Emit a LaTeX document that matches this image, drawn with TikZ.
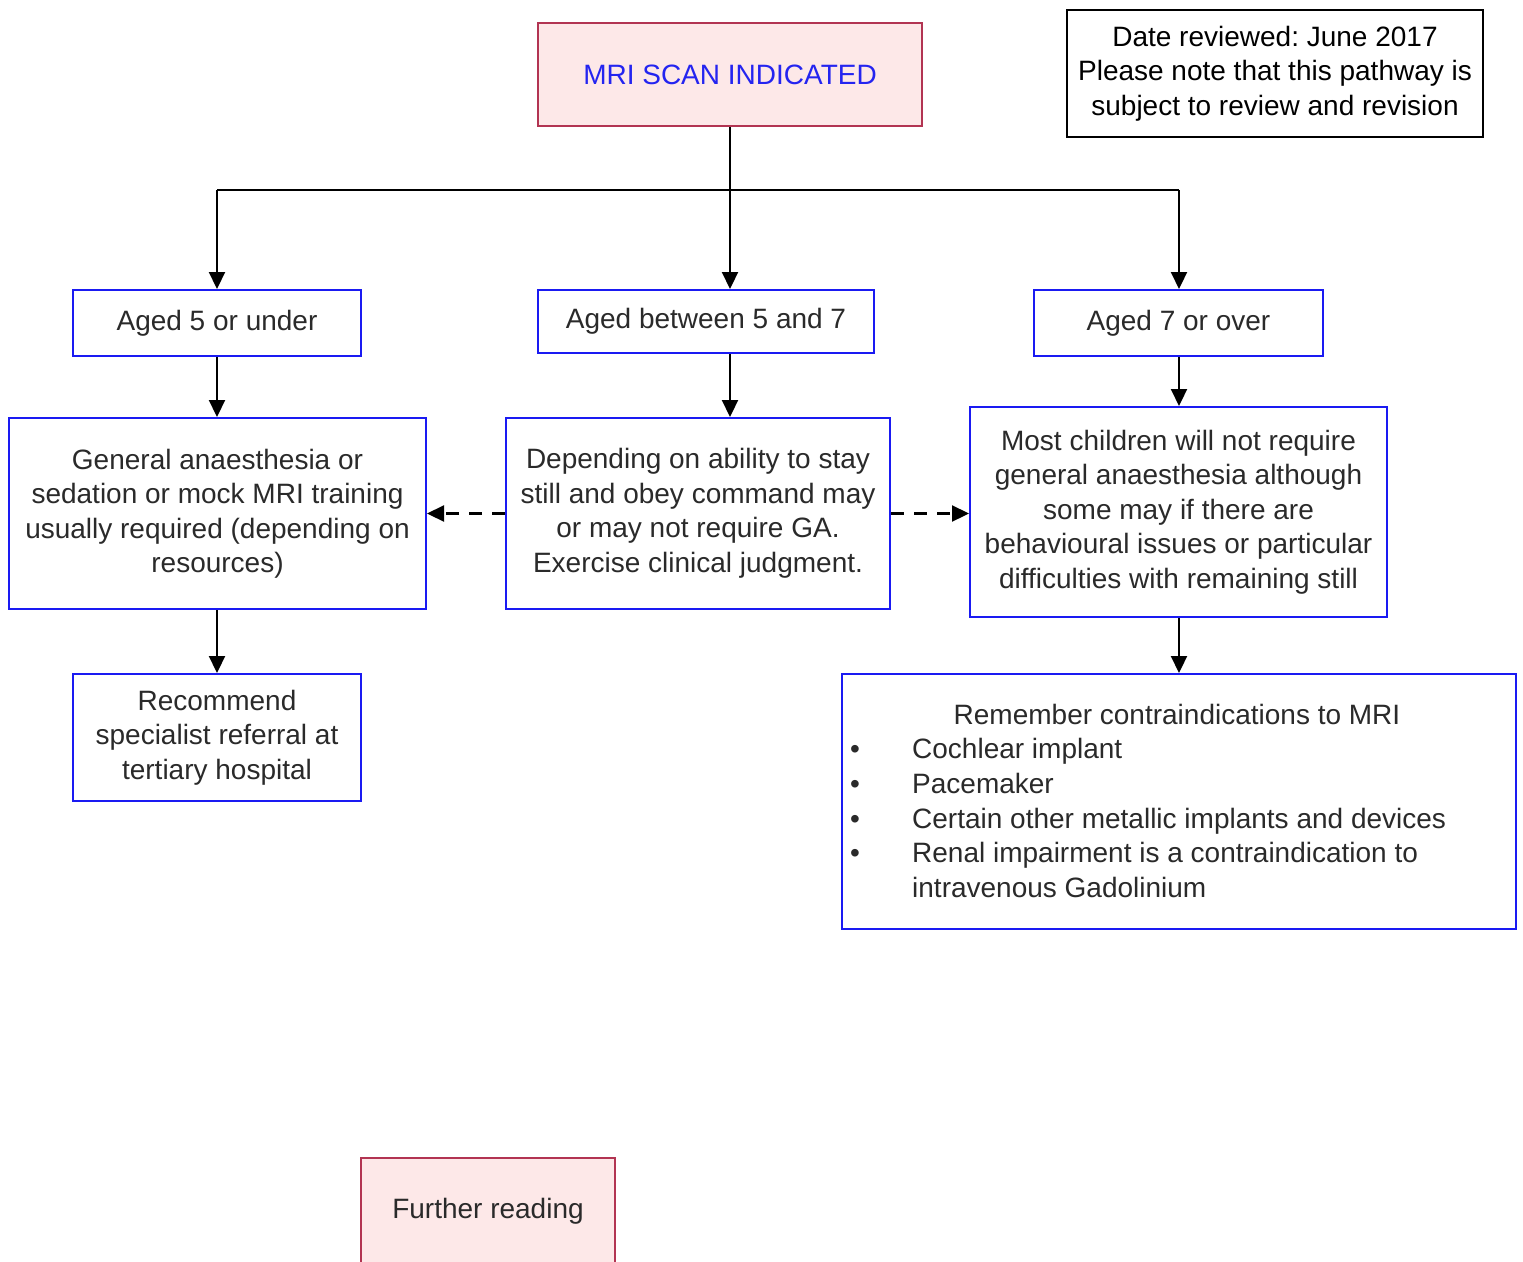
\documentclass[tikz,border=0pt]{standalone}
\usepackage{fontspec}
\setmainfont{Liberation Sans}
\usetikzlibrary{arrows.meta}
\definecolor{pinkfill}{HTML}{FDE8E8}
\definecolor{redborder}{HTML}{B23452}
\definecolor{txtc}{HTML}{2A2A2A}
\definecolor{bblue}{HTML}{1A1AF2}
\definecolor{mriblue}{HTML}{2424F0}
\frenchspacing
\begin{document}
\begin{tikzpicture}[x=1pt,y=-1pt,
  basefont/.style={font=\fontsize{28}{34.5}\selectfont, text=txtc},
  bluebox/.style={basefont, draw=bblue, line width=2pt, fill=white, inner sep=0pt, align=center},
  pinkbox/.style={basefont, draw=redborder, line width=2pt, fill=pinkfill, inner sep=0pt, align=center},
  blackbox/.style={basefont, draw=black, line width=2pt, fill=white, inner sep=0pt, align=center, text=black},
  conn/.style={line width=2.2pt, draw=black},
  arr/.style={conn, -{Triangle[length=17pt,width=16pt]}},
  dasharr/.style={arr, dash pattern=on 13pt off 10pt},
  plain/.style={basefont, inner sep=0pt}
]
\clip (0,0) rectangle (1523,1261);
\fill[white] (0,0) rectangle (1523,1261);

% top boxes
\node[pinkbox, minimum width=384pt, minimum height=103pt, text=mriblue] (mri) at (730,74.5) {MRI SCAN INDICATED};
\node[blackbox, minimum width=416pt, minimum height=127pt] (date) at (1275,73.5) {Date reviewed: June 2017\\Please note that this pathway is\\subject to review and revision};

% age boxes
\node[bluebox, minimum width=288pt, minimum height=66pt] (a5) at (217,323) {Aged 5 or under};
\node[bluebox, minimum width=336pt, minimum height=63pt] (a57) at (706,321.5) {Aged between 5 and 7};
\node[bluebox, minimum width=289pt, minimum height=66pt] (a7) at (1178.5,323) {Aged 7 or over};

% middle boxes
\node[bluebox, minimum width=417pt, minimum height=191pt] (gen) at (217.5,513.5) {General anaesthesia or\\sedation or mock MRI training\\usually required (depending on\\resources)};
\node[bluebox, minimum width=384pt, minimum height=191pt] (dep) at (698,513.5) {Depending on ability to stay\\still and obey command may\\or may not require GA.\\Exercise clinical judgment.};
\node[bluebox, minimum width=417pt, minimum height=210pt] (most) at (1178.5,512) {Most children will not require\\general anaesthesia although\\some may if there are\\behavioural issues or particular\\difficulties with remaining still};

% lower boxes
\node[bluebox, minimum width=288pt, minimum height=127pt] (rec) at (217,737.5) {Recommend\\specialist referral at\\tertiary hospital};
\node[bluebox, minimum width=674pt, minimum height=255pt] (rem) at (1179,801.5) {};
\node[plain, anchor=base] (remh) at (1177,724) {Remember contraindications to MRI};
\node[plain, anchor=base] (b1) at (855,758) {\textbullet};
\node[plain, anchor=base] (b2) at (855,793) {\textbullet};
\node[plain, anchor=base] (b3) at (855,828) {\textbullet};
\node[plain, anchor=base] (b4) at (855,862) {\textbullet};
\node[plain, anchor=base west] (i1) at (912,758) {Cochlear implant};
\node[plain, anchor=base west] (i2) at (912,793) {Pacemaker};
\node[plain, anchor=base west] (i3) at (912,828) {Certain other metallic implants and devices};
\node[plain, anchor=base west] (i4) at (912,862) {Renal impairment is a contraindication to};
\node[plain, anchor=base west] (i4b) at (912,897) {intravenous Gadolinium};

% further reading
\node[pinkbox, text height=60pt, text depth=90pt, minimum width=254pt, anchor=north] (fr) at (488,1157) {Further reading};

% connectors
\coordinate (j) at (730,190);
\coordinate (jl) at (217,190);
\coordinate (jr) at (1179,190);
\draw[conn] (mri.south) -- (j);
\draw[conn] (jl) -- (jr);
\draw[arr] (jl) -- (a5.north);
\draw[arr] (j) -- (j |- a57.north);
\draw[arr] (jr) -- (jr |- a7.north);
\draw[arr] (a5.south) -- (gen.north -| a5.south);
\draw[arr] (a57.south -| j) -- (dep.north -| j);
\draw[arr] (a7.south -| jr) -- (most.north -| jr);
\draw[arr] (gen.south -| a5.south) -- (rec.north);
\draw[arr] (most.south -| jr) -- (rem.north -| jr);
\draw[dasharr] (dep.west) -- (gen.east);
\draw[dasharr] (dep.east) -- (dep.east -| most.west);
\end{tikzpicture}
\end{document}
